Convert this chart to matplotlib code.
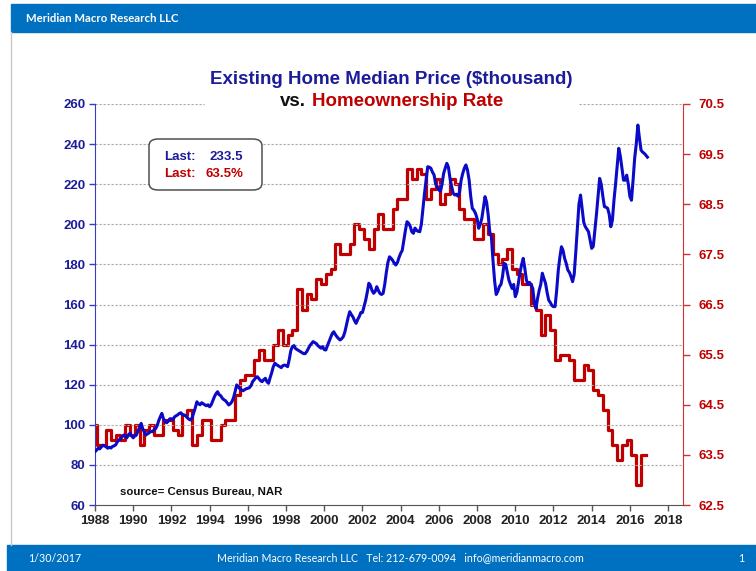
import matplotlib
matplotlib.use('Agg')
import matplotlib.pyplot as plt
from matplotlib.patches import Rectangle, FancyBboxPatch
from matplotlib.lines import Line2D
import numpy as np

# existing home median price, $thousand, monthly Jan..Dec
price_1988 = [86.6, 87.4, 88.3, 88.0, 89.0, 89.8, 89.5, 89.0, 88.3, 88.8, 88.4, 89.2]
price_1989 = [89.5, 90.0, 91.5, 92.4, 93.0, 94.0, 94.9, 94.5, 93.5, 95.0, 95.8, 94.5]
price_1990 = [93.5, 94.5, 94.9, 97.0, 98.5, 100.7, 98.0, 96.5, 94.9, 95.5, 96.0, 96.8]
price_1991 = [96.5, 97.4, 98.0, 99.5, 102.0, 104.0, 105.7, 103.0, 101.5, 101.0, 101.8, 103.0]
price_1992 = [103.0, 102.5, 104.0, 104.5, 105.0, 105.7, 106.0, 105.0, 104.9, 104.5, 103.5, 102.8]
price_1993 = [102.4, 103.5, 106.0, 108.5, 111.5, 110.5, 110.0, 111.0, 110.5, 109.9, 109.5, 110.0]
price_1994 = [109.0, 110.0, 112.0, 114.0, 115.5, 116.5, 115.0, 114.5, 113.2, 112.5, 112.0, 111.0]
price_1995 = [109.9, 110.5, 111.5, 113.5, 116.5, 119.9, 119.0, 118.0, 117.4, 117.0, 117.5, 118.0]
price_1996 = [118.2, 118.5, 119.5, 121.5, 122.5, 123.5, 124.0, 123.0, 122.0, 121.5, 122.5, 123.2]
price_1997 = [121.5, 120.7, 123.5, 126.0, 129.0, 130.7, 130.0, 129.5, 129.0, 128.5, 129.5, 129.8]
price_1998 = [129.5, 129.0, 132.5, 137.0, 139.0, 139.5, 138.0, 137.5, 137.0, 136.5, 136.0, 135.5]
price_1999 = [135.5, 136.5, 138.0, 139.5, 140.5, 141.5, 141.0, 140.5, 139.5, 138.8, 138.2, 139.0]
price_2000 = [137.5, 137.3, 139.5, 141.5, 143.5, 145.5, 146.4, 145.0, 143.9, 143.0, 142.3, 143.0]
price_2001 = [144.0, 146.4, 150.0, 153.5, 156.4, 155.0, 153.8, 152.0, 150.6, 152.5, 154.0, 156.0]
price_2002 = [156.0, 158.9, 162.0, 166.0, 170.6, 169.5, 167.0, 165.6, 166.5, 168.9, 167.0, 165.5]
price_2003 = [165.0, 165.6, 170.0, 176.0, 181.0, 183.8, 183.0, 182.0, 180.5, 179.7, 181.0, 183.5]
price_2004 = [185.5, 187.0, 192.0, 197.0, 201.3, 200.5, 199.0, 196.3, 195.5, 198.1, 197.0, 196.5]
price_2005 = [196.3, 200.0, 208.0, 215.5, 222.0, 228.7, 228.5, 227.9, 226.0, 224.6, 220.0, 218.8]
price_2006 = [217.1, 216.5, 220.0, 225.4, 228.0, 230.4, 228.5, 222.9, 219.0, 215.5, 214.6, 215.0]
price_2007 = [214.0, 216.0, 222.0, 225.4, 228.0, 229.6, 227.0, 222.1, 214.0, 208.0, 207.0, 205.5]
price_2008 = [203.0, 198.0, 200.0, 203.0, 208.5, 213.8, 211.0, 204.6, 196.0, 193.8, 182.0, 172.0]
price_2009 = [165.0, 166.5, 168.9, 170.0, 174.0, 180.5, 180.0, 176.0, 172.2, 170.0, 168.0, 170.0]
price_2010 = [163.9, 166.0, 171.0, 176.0, 180.0, 183.0, 178.0, 172.2, 170.0, 171.0, 169.7, 168.0]
price_2011 = [160.6, 158.0, 163.0, 167.0, 170.0, 175.6, 173.0, 170.6, 166.0, 162.2, 161.0, 159.5]
price_2012 = [158.9, 159.0, 167.0, 177.0, 183.5, 188.8, 187.0, 183.0, 180.5, 177.2, 176.0, 174.0]
price_2013 = [171.4, 175.0, 186.0, 198.0, 210.0, 214.6, 208.0, 201.0, 198.8, 197.5, 196.3, 192.0]
price_2014 = [188.0, 189.0, 197.0, 205.0, 214.0, 222.9, 220.0, 214.0, 208.8, 208.5, 208.0, 205.0]
price_2015 = [198.8, 202.0, 212.0, 220.0, 229.0, 237.9, 234.0, 228.0, 222.0, 222.0, 224.5, 220.0]
price_2016 = [213.8, 212.0, 222.0, 233.0, 240.0, 249.5, 243.0, 237.0, 236.0, 235.4, 234.5, 233.5]

price_years = list(range(1988, 2017))
price_by_year = [price_1988, price_1989, price_1990, price_1991, price_1992, price_1993,
                 price_1994, price_1995, price_1996, price_1997, price_1998, price_1999,
                 price_2000, price_2001, price_2002, price_2003, price_2004, price_2005,
                 price_2006, price_2007, price_2008, price_2009, price_2010, price_2011,
                 price_2012, price_2013, price_2014, price_2015, price_2016]

# homeownership rate, %, quarterly starting 1987 Q4
own_start = (1987, 4)
own_rate = [64.1,
            63.7, 63.7, 64.0, 63.8,
            63.9, 63.8, 64.1, 63.9,
            64.1, 63.7, 64.0, 64.1,
            63.9, 63.9, 64.2, 64.2,
            64.0, 63.9, 64.3, 64.4,
            63.7, 63.9, 64.2, 64.2,
            63.8, 63.8, 64.1, 64.2,
            64.2, 64.7, 65.0, 65.1,
            65.1, 65.4, 65.6, 65.4,
            65.4, 65.7, 66.0, 65.7,
            65.9, 66.0, 66.8, 66.4,
            66.7, 66.6, 67.0, 66.9,
            67.1, 67.2, 67.7, 67.5,
            67.5, 67.7, 68.1, 68.0,
            67.8, 67.6, 68.0, 68.3,
            68.0, 68.0, 68.4, 68.6,
            68.6, 69.2, 69.0, 69.2,
            69.1, 68.6, 68.8, 69.0,
            68.5, 68.7, 69.0, 68.9,
            68.4, 68.2, 68.2, 67.8,
            67.8, 68.1, 67.9, 67.5,
            67.3, 67.4, 67.6, 67.2,
            67.1, 66.9, 66.9, 66.5,
            66.4, 65.9, 66.3, 66.0,
            65.4, 65.5, 65.5, 65.4,
            65.0, 65.0, 65.3, 65.2,
            64.8, 64.7, 64.4, 64.0,
            63.7, 63.4, 63.7, 63.8,
            63.5, 62.9, 63.5]

last_price = '233.5'
last_rate = '63.5%'

price_ticks = list(range(60, 261, 20))
rate_ticks = [62.5, 63.5, 64.5, 65.5, 66.5, 67.5, 68.5, 69.5, 70.5]
year_ticks = list(range(1988, 2019, 2))

BLUE = '#0a0ac8'
NAVY = '#1c1c9a'
RED = '#c00000'
BANNER = '#0070c0'

W, H = 756, 571


def px(x, y):
    # pixel position (from top-left) to figure fraction
    return x / W, 1 - y / H


def underline(fig, txt, color):
    fig.canvas.draw()
    bb = txt.get_window_extent().transformed(fig.transFigure.inverted())
    y = bb.y0 - 1.2 / H
    fig.add_artist(Line2D([bb.x0, bb.x1], [y, y], transform=fig.transFigure,
                          color=color, lw=1.3))


plt.rcParams['font.family'] = ['Liberation Sans', 'DejaVu Sans']
plt.rcParams['font.weight'] = 'bold'

fig = plt.figure(figsize=(W / 100, H / 100), dpi=100)
fig.patch.set_facecolor('white')

ax = fig.add_axes([95 / W, 66 / H, 588 / W, 401 / H])
ax2 = ax.twinx()

# price, monthly
t_price = []
v_price = []
for yr, vals in zip(price_years, price_by_year):
    for m, v in enumerate(vals):
        t_price.append(yr + m / 12)
        v_price.append(v)

# homeownership, quarterly steps
t_rate = []
for i in range(len(own_rate)):
    q = own_start[1] - 1 + i
    t_rate.append(own_start[0] + q / 4 + 0.08)
t_step = t_rate + [t_rate[-1] + 0.25]
v_step = own_rate + [own_rate[-1]]

ax2.plot(t_step, v_step, drawstyle='steps-post', color=RED, lw=2.3, zorder=3)
ax.plot(t_price, v_price, color=BLUE, lw=2.2, zorder=3)

ax.set_zorder(ax2.get_zorder() + 1)
ax.patch.set_visible(False)

ax.set_xlim(1988, 2018.78)
ax.set_ylim(60, 260)
ax2.set_ylim(62.5, 70.5)

ax.set_xticks(year_ticks)
ax.set_yticks(price_ticks)
ax2.set_yticks(rate_ticks)
ax2.set_yticklabels(['%.1f' % r for r in rate_ticks])

ax.yaxis.grid(True, color='#a8a8a8', linestyle=(0, (2, 1.6)), linewidth=0.8)
ax.set_axisbelow(True)

for s in ['top', 'right']:
    ax.spines[s].set_visible(False)
for s in ['top', 'left', 'bottom']:
    ax2.spines[s].set_visible(False)
ax.spines['left'].set_color('#3a3ac8')
ax.spines['bottom'].set_color('#555555')
ax2.spines['right'].set_color('#d03030')

ax.tick_params(axis='y', colors='#3a3ac8', labelcolor=NAVY, length=4, width=1,
               labelsize=9.5, pad=3)
ax.tick_params(axis='x', colors='#555555', labelcolor='#222222', length=4, width=1,
               labelsize=9.5, pad=3)
ax2.tick_params(axis='y', colors='#d03030', labelcolor=RED, length=5, width=1,
                labelsize=9.5, pad=6)

# header and footer bands
fig.add_artist(Rectangle(px(11, 32), (W - 11) / W, 28 / H, transform=fig.transFigure,
                         color=BANNER, zorder=5))
fig.add_artist(Rectangle(px(7, H), (W - 7) / W, 26 / H, transform=fig.transFigure,
                         color=BANNER, zorder=5))
fig.add_artist(Line2D([10.5 / W, 10.5 / W], [px(0, 32)[1], px(0, 545)[1]],
                      transform=fig.transFigure, color='#c8c8c8', lw=1, zorder=5))

fig.text(*px(26, 18), 'Meridian Macro Research LLC', color='white', fontsize=8.2,
         family=['Lato', 'DejaVu Sans'], fontweight='bold', va='center', zorder=6)
fig.text(*px(28, 558), '1/30/2017', color='white', fontsize=7.7,
         family=['Lato', 'DejaVu Sans'], fontweight='normal', va='center', zorder=6)
fig.text(*px(217, 558),
         'Meridian Macro Research LLC   Tel: 212-679-0094   info@meridianmacro.com',
         color='white', fontsize=7.7, family=['Lato', 'DejaVu Sans'],
         fontweight='normal', va='center', zorder=6)
fig.text(*px(738, 558), '1', color='white', fontsize=7.7,
         family=['Lato', 'DejaVu Sans'], fontweight='normal', va='center', zorder=6)

# title block sits over the top gridline
fig.add_artist(Rectangle(px(205, 113), 373 / W, 50 / H, transform=fig.transFigure,
                         color='white', zorder=4))
fig.text(*px(391, 80), 'Existing Home Median Price ($thousand)', color=NAVY,
         fontsize=13.5, ha='center', va='center', zorder=6)
fig.text(*px(280, 102), 'vs.', color='#111111', fontsize=13.5, va='center', zorder=6)
fig.text(*px(312, 102), 'Homeownership Rate', color=RED, fontsize=13.5,
         va='center', zorder=6)

# last-value box
fig.add_artist(FancyBboxPatch(px(149, 190), 113 / W, 51 / H, transform=fig.transFigure,
                              boxstyle='round,pad=0,rounding_size=0.012',
                              facecolor='white', edgecolor='#505050', lw=1.1, zorder=5))
t1 = fig.text(*px(164, 157), 'Last:', color=NAVY, fontsize=9.5, va='center', zorder=6)
fig.text(*px(209, 157), last_price, color=NAVY, fontsize=9.5, va='center', zorder=6)
t2 = fig.text(*px(164, 174), 'Last:', color=RED, fontsize=9.5, va='center', zorder=6)
fig.text(*px(205, 174), last_rate, color=RED, fontsize=9.5, va='center', zorder=6)
underline(fig, t1, NAVY)
underline(fig, t2, RED)

fig.text(*px(120, 491), 'source= Census Bureau, NAR', color='#111111', fontsize=8.2,
         va='center', zorder=6)

fig.savefig('out.png', dpi=100)
